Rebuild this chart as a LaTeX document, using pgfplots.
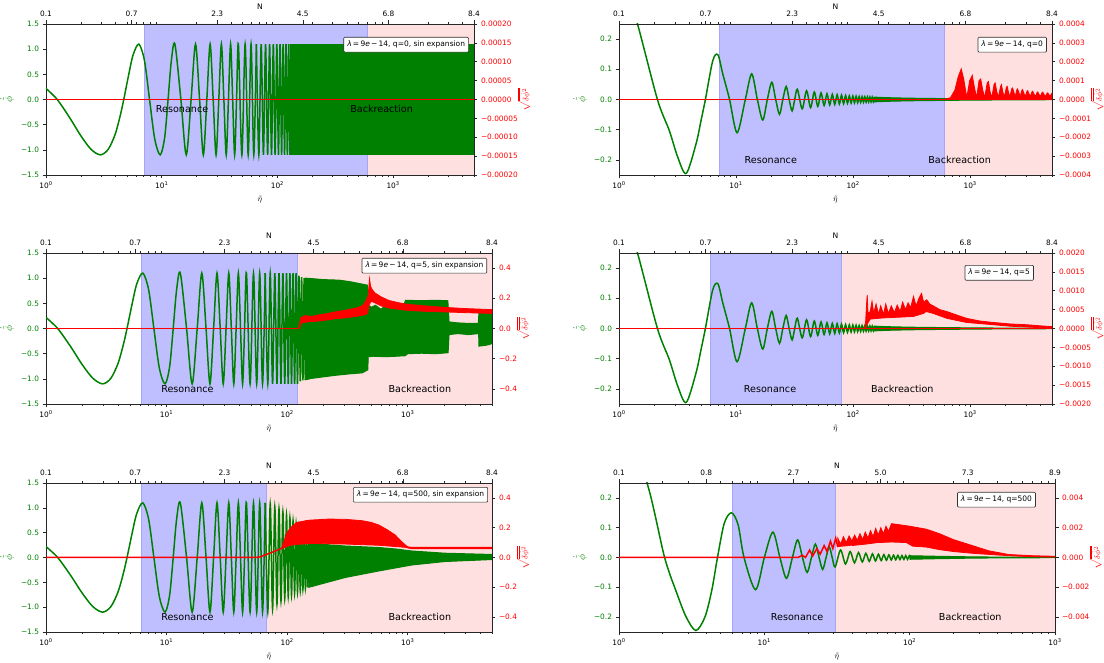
\documentclass[border=0pt]{standalone}
\usepackage{fontspec}
\setmainfont{DejaVu Sans}
\usepackage{pgfplots}
\usepackage{pgfplotstable}
\pgfplotsset{compat=1.18}

\definecolor{mplgreen}{RGB}{0,128,0}
\definecolor{resblue}{RGB}{191,191,255}
\definecolor{resedge}{RGB}{165,165,255}
\definecolor{backpink}{RGB}{255,224,224}

% inflaton velocity, wide-amplitude runs (sin expansion)
\pgfplotstableread{
eta phi
1.00 0.22
1.25 0.00
1.60 -0.36
2.00 -0.72
2.45 -0.99
2.95 -1.10
3.45 -0.99
3.95 -0.70
4.35 -0.35
4.70 0.00
5.15 0.46
5.65 0.88
6.35 1.10
7.10 0.77
7.85 0.00
8.70 -0.78
9.70 -1.10
10.60 -0.76
11.35 0.00
12.10 0.76
13.00 1.10
14.65 0.00
16.30 -1.10
17.95 0.00
19.60 1.10
21.25 0.00
22.90 -1.10
24.55 0.00
26.20 1.10
27.85 0.00
29.50 -1.10
31.15 0.00
32.80 1.10
34.45 0.00
36.10 -1.10
37.75 0.00
39.40 1.10
41.05 0.00
42.70 -1.10
44.35 0.00
46.00 1.10
49.30 -1.10
52.60 1.10
55.90 -1.10
59.20 1.10
62.50 -1.10
65.80 1.10
}\phiwide

% inflaton velocity, damped runs
\pgfplotstableread{
eta phi
1.00 0.46
1.44 0.25
2.13 0.00
2.69 -0.103
3.17 -0.19
3.75 -0.245
4.55 -0.147
5.02 -0.07
5.47 0.00
6.32 0.128
7.00 0.148
7.70 0.085
8.80 0.00
10.20 -0.110
12.00 0.00
13.60 0.085
15.20 0.00
16.90 -0.068
18.50 0.00
20.20 0.057
21.80 0.00
23.50 -0.049
25.10 0.00
26.80 0.043
28.40 0.00
30.10 -0.038
31.70 0.00
33.40 0.034
36.70 -0.031
40.00 0.029
43.30 -0.027
46.60 0.025
49.90 -0.023
53.20 0.022
56.50 -0.020
59.80 0.019
63.10 -0.018
66.40 0.017
69.70 -0.0165
73.00 0.016
76.30 -0.015
79.60 0.0145
82.90 -0.014
86.20 0.013
89.50 -0.0128
92.80 0.012
96.10 -0.012
99.40 0.0116
102.70 -0.0112
106.00 0.011
109.30 -0.0105
112.60 0.010
115.90 -0.0099
119.20 0.0097
122.50 -0.0094
125.80 0.0091
129.10 -0.0089
132.40 0.0087
135.70 -0.0085
139.00 0.0083
142.30 -0.0081
145.60 0.0079
148.90 -0.0077
152.20 0.0076
}\phidamped

% inflaton velocity, q=500 without sin expansion
\pgfplotstableread{
eta phi
1.00 0.50
1.56 0.25
2.06 0.00
2.50 -0.12
2.90 -0.20
3.38 -0.245
3.90 -0.20
4.35 -0.11
4.76 0.00
5.30 0.115
5.94 0.150
6.60 0.110
7.25 0.00
8.70 -0.108
10.00 0.00
11.45 0.085
12.80 0.00
14.20 -0.070
15.60 0.00
16.95 0.059
18.30 0.00
19.70 -0.050
21.10 0.00
22.45 0.045
23.80 0.00
25.20 -0.040
26.60 0.00
27.95 0.036
29.30 0.00
30.70 -0.032
33.45 0.025
36.20 -0.022
38.95 0.020
41.70 -0.018
44.45 0.0165
47.20 -0.015
49.95 0.014
52.70 -0.013
55.45 0.0123
58.20 -0.0117
60.95 0.011
63.70 -0.0104
66.45 0.0098
69.20 -0.0093
71.95 0.0089
74.70 -0.0085
77.45 0.0081
80.20 -0.0077
82.95 0.0074
85.70 -0.0071
88.45 0.0068
91.20 -0.0065
93.95 0.0063
96.70 -0.0060
99.45 0.0058
102.20 -0.0056
}\phiqlarge

\tikzset{
  stagelabel/.style={font=\fontsize{9.6}{11}\selectfont},
  runtag/.style={draw=black!80, fill=white, line width=0.6pt, rounded corners=1pt,
    inner xsep=3.5pt, inner ysep=3.8pt, anchor=north east,
    font=\fontsize{7.5}{8.5}\selectfont},
  phicurve/.style={mplgreen, line width=1.5pt, smooth},
  phifill/.style={fill=mplgreen, draw=mplgreen, line width=1.1pt},
  dcurve/.style={red, line width=1.5pt},
  dfill/.style={fill=red, draw=red, line width=0.8pt},
  zerostrip/.style={fill=red, draw=none},
  pinkspan/.style={draw=none, fill=backpink},
  bluespan/.style={draw=resedge, line width=0.6pt, fill=resblue},
}

% left axis: inflaton velocity against conformal time
\newcommand{\PhiAxis}[1]{%
\begin{axis}[scale only axis, xmode=log, xmin=1,
    tick align=outside,
    major tick length=3.5pt, minor tick length=2pt,
    axis line style={black!85, line width=0.6pt},
    tick style={black!85, line width=0.6pt},
    tick label style={font=\fontsize{7.4}{9}\selectfont},
    xlabel style={font=\fontsize{8.5}{10}\selectfont},
    ylabel style={font=\fontsize{10}{11}\selectfont, text=mplgreen},
    scaled y ticks=false,
    xtick pos=left, ytick pos=left,
    xtick={1,10,100,1000},
    xticklabels={10\textsuperscript{0},10\textsuperscript{1},10\textsuperscript{2},10\textsuperscript{3}},
    minor xtick={2,3,4,5,6,7,8,9,20,30,40,50,60,70,80,90,200,300,400,500,600,700,800,900,2000,3000,4000,5000},
    xlabel={$\tilde{\eta}$},
    ylabel={$\dot{\tilde{\phi}}$},
    yticklabel style={text=mplgreen},
    anchor=south west, #1]}

% right axis: fluctuation amplitude, with e-folds on top
\newcommand{\DeltaAxis}[1]{%
\begin{axis}[scale only axis, xmode=log, xmin=1,
    axis x line*=top, axis y line*=right,
    tick align=outside,
    major tick length=3.5pt, minor tick length=2pt,
    axis line style={black!85, line width=0.6pt},
    tick style={black!85, line width=0.6pt},
    tick label style={font=\fontsize{7.4}{9}\selectfont},
    xlabel style={font=\fontsize{7.6}{9}\selectfont},
    ylabel style={font=\fontsize{8}{9}\selectfont, text=red},
    xlabel shift=-5pt, ylabel shift=-7pt,
    scaled y ticks=false,
    minor xtick={2,3,4,5,6,7,8,9,20,30,40,50,60,70,80,90,200,300,400,500,600,700,800,900,2000,3000,4000,5000},
    xlabel={N},
    ylabel={$\sqrt{\overline{\delta\dot{\phi}^{2}}}$},
    yticklabel style={text=red},
    anchor=south west, #1]}

\begin{document}
\begin{tikzpicture}
\path[use as bounding box] (0,0) rectangle (1104pt,663pt);

%================ top left: q=0, sin expansion ================
\PhiAxis{at={(46pt,488pt)}, width=428pt, height=151pt, xmax=5000,
  ymin=-1.5, ymax=1.5, ytick={-1.5,-1,-0.5,0,0.5,1,1.5},
  yticklabels={−1.5,−1.0,−0.5,0.0,0.5,1.0,1.5}}
\addplot[pinkspan] coordinates {(600,-1.5) (5000,-1.5) (5000,1.5) (600,1.5)};
\addplot[bluespan] coordinates {(7.1,-1.5) (600,-1.5) (600,1.5) (7.1,1.5) (7.1,-1.5)};
\addplot[phifill] coordinates {(130,1.1) (5000,1.1) (5000,-1.1) (130,-1.1) (130,1.1)};
\addplot[phicurve] table[x=eta, y=phi] {\phiwide};
\addplot[phicurve] coordinates {(65.8,1.1) (69.1,-1.1) (72.4,1.1) (75.7,-1.1) (79.0,1.1) (82.3,-1.1) (85.6,1.1) (88.9,-1.1) (92.2,1.1) (95.5,-1.1) (98.8,1.1) (102.1,-1.1) (105.4,1.1) (108.7,-1.1) (112.0,1.1) (115.3,-1.1) (118.6,1.1) (121.9,-1.1) (125.2,1.1) (128.5,-1.1) (131.8,1.1)};
% the fluctuation stays at zero for the whole run (same zero level on both scales)
\addplot[zerostrip] coordinates {(1,-0.016) (5000,-0.016) (5000,0.016) (1,0.016)};
\node[stagelabel] at (axis cs:15,-0.19) {Resonance};
\node[stagelabel] at (axis cs:795,-0.19) {Backreaction};
\end{axis}
\DeltaAxis{at={(46pt,488pt)}, width=428pt, height=151pt, xmax=5000,
  xtick={1,5.4928,30.171,165.72,910.28,5000}, xticklabels={0.1,0.7,2.3,4.5,6.8,8.4},
  ymin=-0.0002, ymax=0.0002,
  ytick={-0.0002,-0.00015,-0.0001,-0.00005,0,0.00005,0.0001,0.00015,0.0002},
  yticklabels={−0.00020,−0.00015,−0.00010,−0.00005,0.00000,0.00005,0.00010,0.00015,0.00020}}
\node[runtag] at (rel axis cs:0.988,0.914) {\textit{λ}\,=\,9\textit{e}\,−\,14, q=0, sin expansion};
\end{axis}

%================ top right: q=0 ================
\PhiAxis{at={(619pt,488pt)}, width=433pt, height=151pt, xmax=5000,
  ymin=-0.25, ymax=0.25, ytick={-0.2,-0.1,0,0.1,0.2}, yticklabels={−0.2,−0.1,0.0,0.1,0.2}}
\addplot[pinkspan] coordinates {(600,-0.25) (5000,-0.25) (5000,0.25) (600,0.25)};
\addplot[bluespan] coordinates {(7.15,-0.25) (600,-0.25) (600,0.25) (7.15,0.25) (7.15,-0.25)};
\addplot[phifill] coordinates {(150,0.0077) (200,0.0058) (300,0.0042) (600,0.0028) (1000,0.002) (2000,0.0012) (5000,0.0006) (5000,-0.0006) (2000,-0.0012) (1000,-0.002) (600,-0.0028) (300,-0.0042) (200,-0.0058) (150,-0.0077)};
\addplot[phicurve] table[x=eta, y=phi] {\phidamped};
% zero level of the fluctuation, shared by both scales
\addplot[zerostrip] coordinates {(1,-0.0026) (5000,-0.0026) (5000,0.0026) (1,0.0026)};
\node[stagelabel] at (axis cs:19.8,-0.2) {Resonance};
\node[stagelabel] at (axis cs:813,-0.2) {Backreaction};
\end{axis}
\DeltaAxis{at={(619pt,488pt)}, width=433pt, height=151pt, xmax=5000,
  xtick={1,5.4928,30.171,165.72,910.28,5000}, xticklabels={0.1,0.7,2.3,4.5,6.8,8.4},
  ymin=-0.0004, ymax=0.0004,
  ytick={-0.0004,-0.0003,-0.0002,-0.0001,0,0.0001,0.0002,0.0003,0.0004},
  yticklabels={−0.0004,−0.0003,−0.0002,−0.0001,0.0000,0.0001,0.0002,0.0003,0.0004}}
\addplot[dfill] coordinates {(600,0) (680,0.00001) (740,0.00005) (790,0.00012) (838,0.000162) (880,0.00011) (935,0.00001)
 (990,0.0001) (1042,0.000128) (1090,0.00006) (1135,0.00001) (1190,0.0001) (1230,0.000109) (1280,0.00005) (1330,0.00001)
 (1400,0.00009) (1432,0.000095) (1480,0.00004) (1530,0.00001) (1600,0.00008) (1634,0.000088) (1690,0.00004) (1740,0.000012)
 (1820,0.00007) (1850,0.000079) (1900,0.00004) (1960,0.000014) (2040,0.000065) (2070,0.00007) (2120,0.00004) (2180,0.000015)
 (2270,0.000058) (2300,0.000061) (2360,0.00004) (2420,0.000015) (2510,0.000053) (2540,0.000056) (2600,0.00004) (2670,0.000016)
 (2770,0.00005) (2800,0.000053) (2870,0.000035) (2950,0.000016) (3060,0.000045) (3100,0.000047) (3180,0.00003) (3260,0.000016)
 (3380,0.000042) (3420,0.000044) (3500,0.00003) (3600,0.000016) (3740,0.000038) (3780,0.00004) (3870,0.000028) (3970,0.000016)
 (4120,0.000037) (4170,0.000039) (4270,0.000027) (4380,0.000016) (4550,0.000034) (4600,0.000035) (4700,0.000026) (4800,0.000016)
 (4950,0.00003) (5000,0.000033) (5000,0)};
\node[runtag] at (rel axis cs:0.988,0.914) {\textit{λ}\,=\,9\textit{e}\,−\,14, q=0};
\end{axis}

%================ middle left: q=5, sin expansion ================
\PhiAxis{at={(46pt,259pt)}, width=446pt, height=151pt, xmax=5000,
  ymin=-1.5, ymax=1.5, ytick={-1.5,-1,-0.5,0,0.5,1,1.5},
  yticklabels={−1.5,−1.0,−0.5,0.0,0.5,1.0,1.5}}
\addplot[pinkspan] coordinates {(122,-1.5) (5000,-1.5) (5000,1.5) (122,1.5)};
\addplot[bluespan] coordinates {(6.2,-1.5) (122,-1.5) (122,1.5) (6.2,1.5) (6.2,-1.5)};
\addplot[phifill] coordinates {(140,1.0) (160,0.99) (200,0.97) (268,0.96) (330,0.93) (420,0.88) (462,0.86) (466,0.47) (500,0.42) (540,0.46) (600,0.38) (650,0.45) (720,0.40) (800,0.44) (880,0.42) (940,0.5) (960,0.56) (1300,0.55) (1700,0.56) (2150,0.55) (2200,0.13) (2600,0.11) (3200,0.1) (3850,0.1) (3900,0.3) (4500,0.32) (5000,0.3)
 (5000,-0.3) (4500,-0.33) (3900,-0.35) (3880,-0.1) (3200,-0.12) (2600,-0.1) (2200,-0.12) (2160,-0.48) (1700,-0.5) (1300,-0.49) (1000,-0.5) (950,-0.54) (800,-0.55) (650,-0.56) (520,-0.55) (470,-0.56) (466,-0.82) (420,-0.88) (330,-0.9) (250,-0.93) (200,-0.96) (160,-0.99) (140,-1.02)};
\addplot[phicurve] table[x=eta, y=phi] {\phiwide};
\addplot[phicurve] coordinates {(65.8,1.1) (69.1,-1.1) (72.4,1.1) (75.7,-1.1) (79.0,1.1) (82.3,-1.1) (85.6,1.1) (88.9,-1.1) (92.2,1.1) (95.5,-1.1) (98.8,1.1) (102.1,-1.1) (105.4,1.1) (108.7,-1.1) (112.0,1.1) (115.3,-1.1) (118.6,1.1) (121.9,-1.1) (125.2,1.05) (128.5,-1.05) (131.8,1.02) (135.1,-1.03) (138.4,1.0) (141.7,-1.02) (145.0,1.0)};
\node[stagelabel] at (axis cs:14.9,-1.2) {Resonance};
\node[stagelabel] at (axis cs:1260,-1.2) {Backreaction};
\end{axis}
\DeltaAxis{at={(46pt,259pt)}, width=446pt, height=151pt, xmax=5000,
  xtick={1,5.4928,30.171,165.72,910.28,5000}, xticklabels={0.1,0.7,2.3,4.5,6.8,8.4},
  ymin=-0.5, ymax=0.5, ytick={-0.4,-0.2,0,0.2,0.4}, yticklabels={−0.4,−0.2,0.0,0.2,0.4}}
\addplot[dcurve] coordinates {(1,0) (126,0)};
\addplot[dfill] coordinates {(125,0) (127,0.03) (129,0.07) (140,0.085) (160,0.08) (189,0.092) (220,0.1) (250,0.11) (300,0.12) (372,0.135) (420,0.15) (440,0.17) (455,0.19) (470,0.22) (482,0.33) (492,0.28) (505,0.26) (535,0.235) (600,0.21) (700,0.185) (850,0.17) (1000,0.16) (1380,0.15) (2000,0.14) (3000,0.132) (4000,0.128) (5000,0.125)
 (5000,0.1) (4000,0.102) (3000,0.105) (2000,0.11) (1380,0.114) (1000,0.12) (700,0.135) (600,0.15) (535,0.17) (500,0.18) (480,0.16) (465,0.1) (440,0.09) (372,0.08) (300,0.07) (250,0.065) (189,0.05) (150,0.045) (130,0.035) (127,0.0)};
\node[runtag] at (rel axis cs:0.989,0.967) {\textit{λ}\,=\,9\textit{e}\,−\,14, q=5, sin expansion};
\end{axis}

%================ middle right: q=5 ================
\PhiAxis{at={(619pt,259pt)}, width=433pt, height=151pt, xmax=5000,
  ymin=-0.25, ymax=0.25, ytick={-0.2,-0.1,0,0.1,0.2}, yticklabels={−0.2,−0.1,0.0,0.1,0.2}}
\addplot[pinkspan] coordinates {(79,-0.25) (5000,-0.25) (5000,0.25) (79,0.25)};
\addplot[bluespan] coordinates {(6.0,-0.25) (79,-0.25) (79,0.25) (6.0,0.25) (6.0,-0.25)};
\addplot[phifill] coordinates {(150,0.0077) (200,0.0058) (300,0.0042) (600,0.0028) (1000,0.002) (2000,0.0012) (5000,0.0006) (5000,-0.0006) (2000,-0.0012) (1000,-0.002) (600,-0.0028) (300,-0.0042) (200,-0.0058) (150,-0.0077)};
\addplot[phicurve] table[x=eta, y=phi] {\phidamped};
\node[stagelabel] at (axis cs:19.5,-0.2) {Resonance};
\node[stagelabel] at (axis cs:263,-0.2) {Backreaction};
\end{axis}
\DeltaAxis{at={(619pt,259pt)}, width=433pt, height=151pt, xmax=5000,
  xtick={1,5.4928,30.171,165.72,910.28,5000}, xticklabels={0.1,0.7,2.3,4.5,6.8,8.4},
  ymin=-0.002, ymax=0.002,
  ytick={-0.002,-0.0015,-0.001,-0.0005,0,0.0005,0.001,0.0015,0.002},
  yticklabels={−0.0020,−0.0015,−0.0010,−0.0005,0.0000,0.0005,0.0010,0.0015,0.0020}}
\addplot[dcurve] coordinates {(1,0) (5000,0)};
\addplot[dfill] coordinates {(126,0) (128,0.0002) (130,0.0006) (132,0.00089) (134,0.0004) (140,0.00045) (145,0.00072) (150,0.0004) (157,0.00065) (165,0.00038) (172,0.0006) (182,0.00038) (190,0.00065) (200,0.0004) (212,0.0006) (225,0.00042) (238,0.00062) (252,0.00045) (265,0.0007) (280,0.0005) (295,0.00068) (310,0.00055) (328,0.00085) (345,0.0006) (365,0.0008) (384,0.00093) (400,0.0007) (426,0.00076) (450,0.00065) (483,0.0006) (550,0.0005) (630,0.00045) (780,0.00035) (930,0.00027) (1200,0.0002) (1570,0.00016) (2200,0.00012) (3020,0.0001) (4000,0.00007) (5000,0.00005)
 (5000,0.00001) (4000,0.00002) (3020,0.00004) (2200,0.00006) (1570,0.0001) (930,0.00016) (630,0.00027) (483,0.0004) (420,0.00045) (400,0.0004) (328,0.00032) (250,0.0003) (180,0.00028) (140,0.00025) (131,0.0001) (128,0.0)};
\node[runtag] at (rel axis cs:0.958,0.92) {\textit{λ}\,=\,9\textit{e}\,−\,14, q=5};
\end{axis}

%================ bottom left: q=500, sin expansion ================
\PhiAxis{at={(46pt,31pt)}, width=446pt, height=149pt, xmax=5000,
  ymin=-1.5, ymax=1.5, ytick={-1.5,-1,-0.5,0,0.5,1,1.5},
  yticklabels={−1.5,−1.0,−0.5,0.0,0.5,1.0,1.5}}
\addplot[pinkspan] coordinates {(67.5,-1.5) (5000,-1.5) (5000,1.5) (67.5,1.5)};
\addplot[bluespan] coordinates {(6.2,-1.5) (67.5,-1.5) (67.5,1.5) (6.2,1.5) (6.2,-1.5)};
\addplot[phifill] coordinates {(150,0.33) (180,0.28) (230,0.25) (305,0.23) (576,0.2) (800,0.17) (1080,0.13) (2040,0.085) (5000,0.06) (5000,-0.04) (2040,-0.08) (1080,-0.15) (576,-0.27) (305,-0.4) (222,-0.49) (162,-0.58) (150,-0.6)};
\addplot[phicurve] table[x=eta, y=phi] {\phiwide};
\addplot[phicurve] coordinates {(65.8,1.1) (69.1,-1.1) (72.4,1.08) (75.7,-1.04) (79.0,1.02) (82.3,-0.94) (85.6,0.98) (88.9,-0.88) (92.2,0.92) (95.5,-0.83) (98.8,0.86) (102.1,-0.79) (105.4,0.8) (108.7,-0.76) (112.0,0.74) (115.3,-0.72) (118.6,0.68) (121.9,-0.70) (125.2,0.6) (128.5,-0.67) (131.8,0.52) (135.1,-0.64) (138.4,0.45) (141.7,-0.62) (145.0,0.38) (148.3,-0.6) (151.6,0.33) (154.9,-0.58)};
\node[stagelabel] at (axis cs:14.9,-1.2) {Resonance};
\node[stagelabel] at (axis cs:1260,-1.2) {Backreaction};
\end{axis}
\DeltaAxis{at={(46pt,31pt)}, width=446pt, height=149pt, xmax=5000,
  xtick={1,5.4928,30.171,165.72,910.28,5000}, xticklabels={0.1,0.7,2.3,4.5,6.8,8.4},
  ymin=-0.5, ymax=0.5, ytick={-0.4,-0.2,0,0.2,0.4}, yticklabels={−0.4,−0.2,0.0,0.2,0.4}}
\addplot[dcurve] coordinates {(1,0) (55,0) (60,0.004) (67,0.02) (75,0.035) (86,0.055) (92,0.065)};
\addplot[dfill] coordinates {(90,0.06) (94,0.11) (100,0.17) (110,0.21) (120,0.235) (150,0.25) (222,0.258) (305,0.256) (419,0.247) (500,0.235) (576,0.218) (680,0.185) (790,0.15) (880,0.11) (956,0.084) (1000,0.072) (1080,0.068) (5000,0.068)
 (5000,0.058) (1080,0.058) (956,0.068) (576,0.082) (305,0.09) (162,0.094) (120,0.088) (110,0.084) (100,0.075) (90,0.058)};
\node[runtag] at (rel axis cs:0.991,0.973) {\textit{λ}\,=\,9\textit{e}\,−\,14, q=500, sin expansion};
\end{axis}

%================ bottom right: q=500 ================
\PhiAxis{at={(619pt,31pt)}, width=436pt, height=149pt, xmax=1000,
  ymin=-0.25, ymax=0.25, ytick={-0.2,-0.1,0,0.1,0.2}, yticklabels={−0.2,−0.1,0.0,0.1,0.2}}
\addplot[pinkspan] coordinates {(30.7,-0.25) (1000,-0.25) (1000,0.25) (30.7,0.25)};
\addplot[bluespan] coordinates {(6.0,-0.25) (30.7,-0.25) (30.7,0.25) (6.0,0.25) (6.0,-0.25)};
\addplot[phifill] coordinates {(100,0.0058) (150,0.004) (250,0.0022) (400,0.0012) (1000,0.0005) (1000,-0.0005) (400,-0.0012) (250,-0.0022) (150,-0.004) (100,-0.0058)};
\addplot[phicurve] table[x=eta, y=phi] {\phiqlarge};
\node[stagelabel] at (axis cs:16.8,-0.2) {Resonance};
\node[stagelabel] at (axis cs:261,-0.2) {Backreaction};
\end{axis}
\DeltaAxis{at={(619pt,31pt)}, width=436pt, height=149pt, xmax=1000,
  xtick={1,3.981,15.849,63.096,251.19,1000}, xticklabels={0.1,0.8,2.7,5.0,7.3,8.9},
  ymin=-0.005, ymax=0.005,
  ytick={-0.004,-0.002,0,0.002,0.004},
  yticklabels={−0.004,−0.002,0.000,0.002,0.004}}
\addplot[dcurve] coordinates {(1,0) (17,0) (18.3,0.00015) (19.2,0.0) (20.5,0.0005) (21.5,0.0001) (23,0.0006) (24.2,0.00022) (25.8,0.0008) (27,0.0004) (28.5,0.0011) (29.6,0.0006) (31,0.0013) (32,0.0007)};
\addplot[dfill] coordinates {(32,0.0007) (32,0.0013) (33.5,0.0009) (35,0.0014) (36.6,0.001) (38.3,0.00145) (40,0.0011) (41.8,0.0015) (43.6,0.00115) (45.5,0.0016) (47.5,0.0012) (49.5,0.0017) (51.6,0.0013) (53.8,0.0018) (56,0.0014) (58.4,0.00195) (60.8,0.0015) (63.3,0.002) (66,0.0016) (68.7,0.0021) (71.5,0.00175) (75,0.00227) (85,0.0022) (100,0.0021) (130,0.0019) (160,0.0016) (200,0.0012) (280,0.00075) (350,0.00045) (480,0.0002) (700,0.00012) (1000,0.00008)
 (1000,0.00003) (700,0.00005) (480,0.00012) (280,0.00027) (200,0.0004) (160,0.00053) (130,0.0007) (105,0.00076) (95,0.001) (75,0.00104) (60,0.001) (50,0.0009) (40,0.0008)};
\node[runtag] at (rel axis cs:0.956,0.94) {\textit{λ}\,=\,9\textit{e}\,−\,14, q=500};
\end{axis}

\end{tikzpicture}
\end{document}
